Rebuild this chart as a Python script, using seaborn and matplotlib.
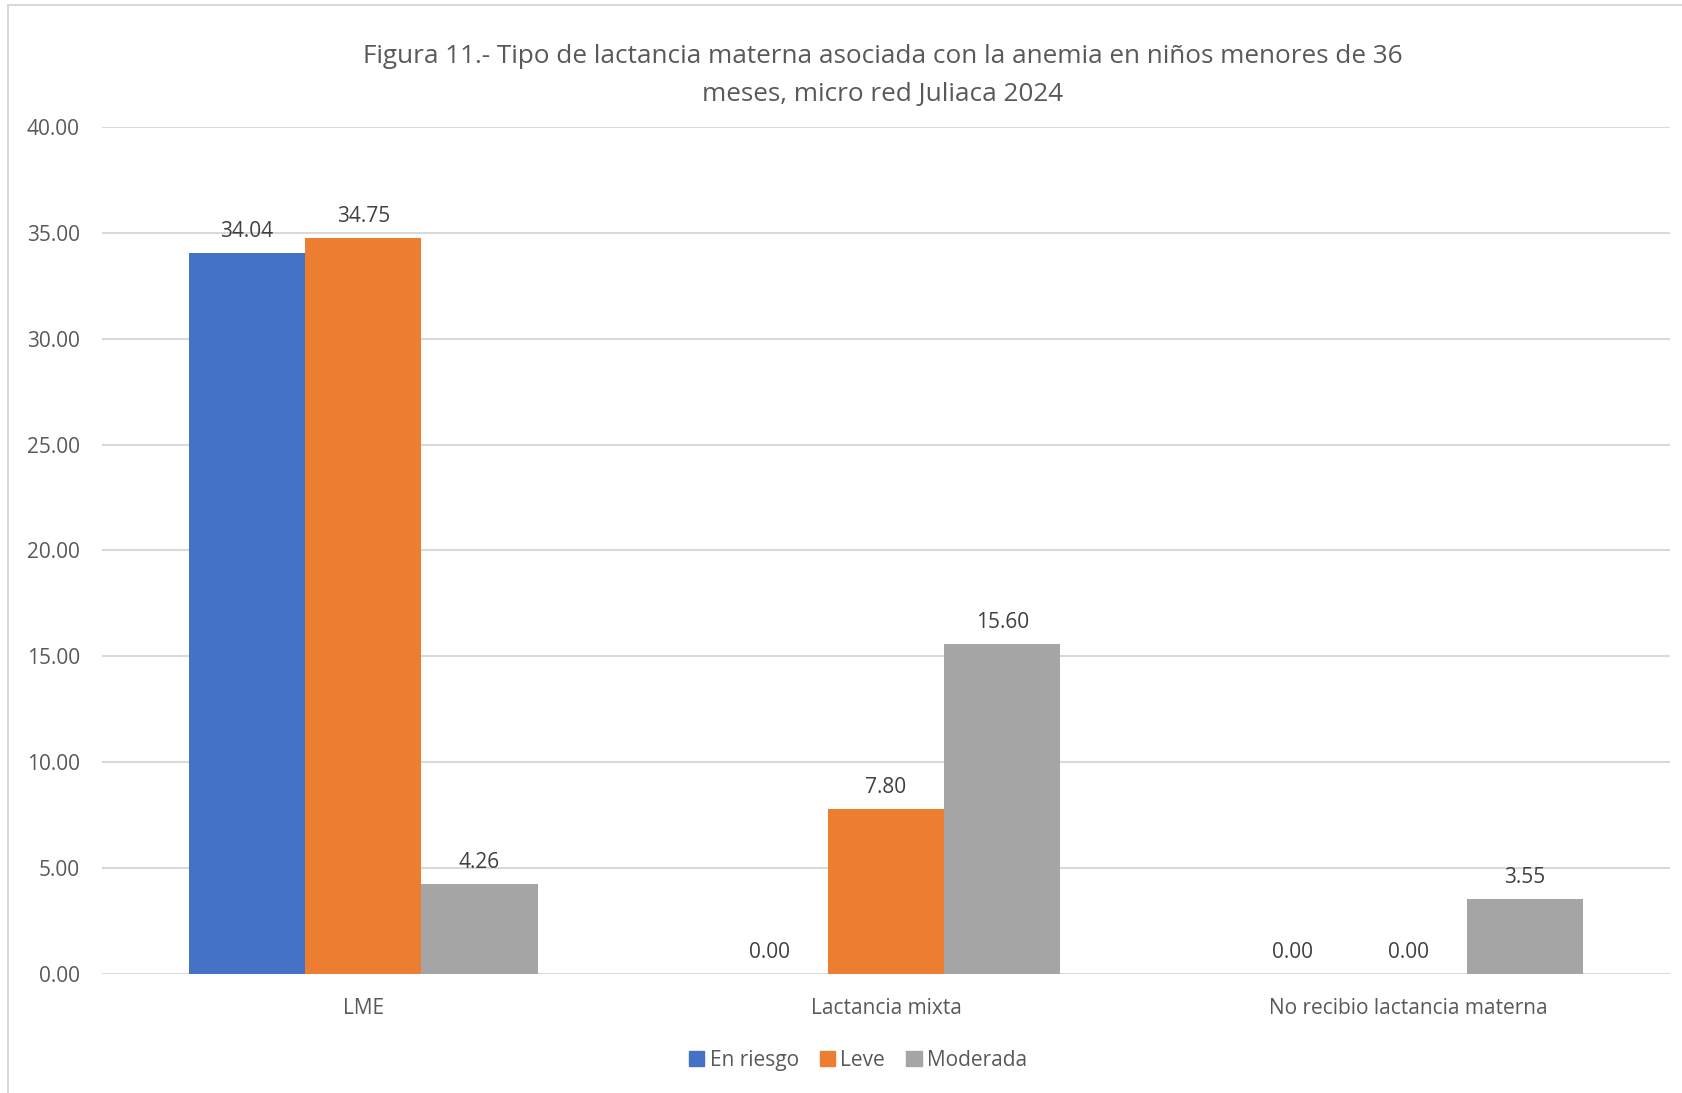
import matplotlib
matplotlib.use("Agg")
import matplotlib.pyplot as plt
import matplotlib.patches as mpatches
import seaborn as sns
import pandas as pd

categories = ["LME", "Lactancia mixta", "No recibio lactancia materna"]
series = ["En riesgo", "Leve", "Moderada"]
en_riesgo = [34.04, 0.00, 0.00]
leve = [34.75, 7.80, 0.00]
moderada = [4.26, 15.60, 3.55]
colors = ["#4472C4", "#ED7D31", "#A5A5A5"]
yticks = [0, 5, 10, 15, 20, 25, 30, 35, 40]
title = "Figura 11.- Tipo de lactancia materna asociada con la anemia en niños menores de 36\nmeses, micro red Juliaca 2024"

df = pd.DataFrame({
    "categoria": categories * 3,
    "grupo": [s for s in series for _ in categories],
    "valor": en_riesgo + leve + moderada,
})

sns.set_theme(style="white")
plt.rcParams["font.family"] = ["Open Sans", "DejaVu Sans"]
text_color = "#595959"
grid_color = "#D9D9D9"

fig = plt.figure(figsize=(16.82, 10.93), dpi=100)
ax = fig.add_axes([0.0606, 0.1089, 0.9323, 0.7749])

sns.barplot(data=df, x="categoria", y="valor", hue="grupo", order=categories,
            hue_order=series, palette=colors, width=0.667, gap=0,
            saturation=1, ax=ax, legend=False, edgecolor="none")

for container in ax.containers:
    ax.bar_label(container, fmt="%.2f", padding=8, fontsize=15, color="#404040")

ax.set_ylim(0, 40)
ax.set_xlim(-0.5, 2.5)
ax.set_yticks(yticks)
ax.set_yticklabels([f"{v:.2f}" for v in yticks], fontsize=15, color=text_color)
ax.tick_params(axis="x", labelsize=15, labelcolor=text_color, length=0, pad=17)
ax.tick_params(axis="y", length=0, pad=16)
ax.set_xlabel("")
ax.set_ylabel("")
ax.yaxis.grid(True, color=grid_color, linewidth=1.5)
ax.set_axisbelow(True)
for s in ax.spines.values():
    s.set_visible(False)

fig.text(0.525, 0.931, title, ha="center", va="center", fontsize=18.8,
         color=text_color, linespacing=1.72)

handles = [mpatches.Patch(color=c, label=s) for c, s in zip(colors, series)]
fig.legend(handles=handles, loc="center", bbox_to_anchor=(0.510, 0.030), ncol=3,
           frameon=False, fontsize=15, handlelength=0.75, handleheight=0.75,
           handletextpad=0.25, columnspacing=1.0, labelcolor=text_color)

# chart frame
frame = mpatches.Rectangle((8 / 1682, -0.1), 1.2, 1.1 - 5 / 1093,
                           transform=fig.transFigure, fill=False,
                           edgecolor=grid_color, linewidth=1.5)
fig.patches.append(frame)

fig.savefig("out.png", dpi=100)
